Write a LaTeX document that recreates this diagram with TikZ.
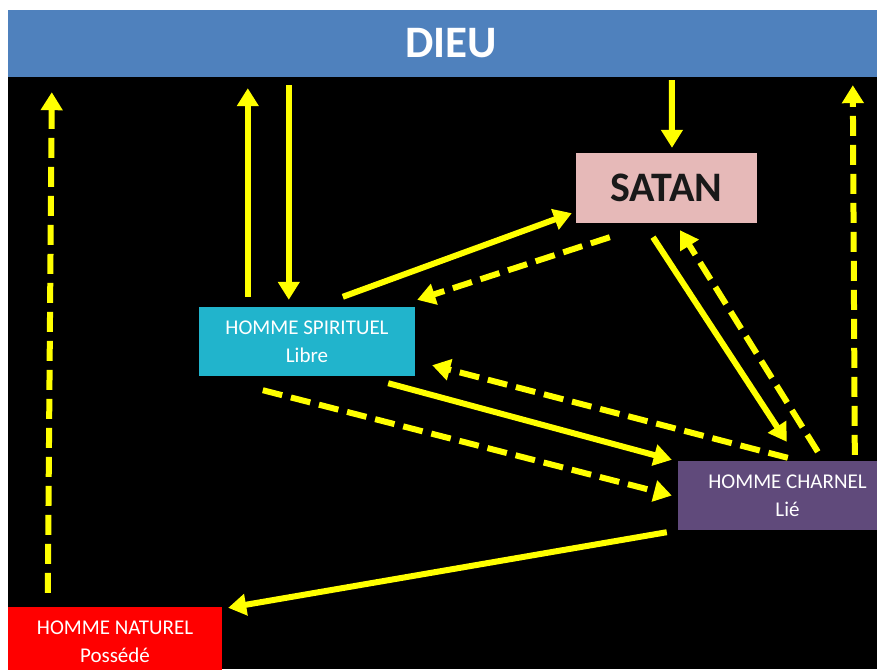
\documentclass[tikz,border=0pt]{standalone}
\usepackage{fontspec}
\setmainfont{Carlito}
\usepackage{xcolor}
\usepackage{tikz}
\usetikzlibrary{calc,arrows.meta}

\definecolor{bleudieu}{RGB}{79,129,189}
\definecolor{rosesatan}{RGB}{230,185,184}
\definecolor{cyanspirituel}{RGB}{33,180,204}
\definecolor{violetcharnel}{RGB}{96,74,123}
\definecolor{rougenaturel}{RGB}{255,0,0}
\definecolor{jaune}{RGB}{255,255,0}

\begin{document}
\begin{tikzpicture}[x=1pt, y=-1pt,
    boite/.style={inner sep=0pt, align=center, text=white, font=\fontsize{21}{28}\selectfont},
    plein/.style={jaune, line width=6pt, -{Triangle[width=21pt,length=18pt]}},
    tirets/.style={plein, dash pattern=on 20pt off 9pt}]
            \useasboundingbox (0,0) rectangle (877,669);
            \clip (0,0) rectangle (877,669);
            \fill[white] (0,0) rectangle (877,669);
            \fill[black] (8,77) rectangle (877,669);

            \node[fill=bleudieu, inner sep=0pt, minimum width=869pt, minimum height=67pt] (dieu) at (442.5,43.5) {};
            \node[text=white, font=\bfseries\fontsize{45}{50}\selectfont] (dieutxt) at (451,43) {DIEU};

            \node[fill=rosesatan, inner sep=0pt, minimum width=181pt, minimum height=70pt, text=black!90, font=\bfseries\fontsize{42}{46}\selectfont] (satan) at (666.5,188) {SATAN};

            \node[boite, fill=cyanspirituel, minimum width=216pt, minimum height=69pt] (spirituel) at (307,341.5) {HOMME SPIRITUEL\\Libre};
            \node[boite, fill=violetcharnel, minimum width=219pt, minimum height=69pt] (charnel) at (787.5,495.5) {HOMME CHARNEL\\Lié};
            \node[boite, fill=rougenaturel, minimum width=214pt, minimum height=70pt] (naturel) at (115,642) {HOMME NATUREL\\Possédé};

            \draw[tirets] ([shift={(40,-14)}]naturel.north west) -- ([shift={(44,15)}]dieu.south west);
            \draw[plein] ([shift={(49,-10)}]spirituel.north west) -- ([shift={(240,11)}]dieu.south west);
            \draw[plein] ([shift={(281,8)}]dieu.south west) -- ([shift={(90,-7)}]spirituel.north west);
            \draw[plein] ([shift={(664,3)}]dieu.south west) -- ([shift={(5.5,-5)}]satan.north);
            \draw[tirets] ([shift={(177,-6)}]charnel.north west) -- ([shift={(845,8)}]dieu.south west);

            \draw[plein] ([shift={(144,-10)}]spirituel.north west) -- ([shift={(-4,-10)}]satan.south west);
            \draw[tirets] ([shift={(34,14)}]satan.south west) -- ([shift={(2,-7)}]spirituel.north east);

            \draw[plein] ([shift={(-27,7)}]spirituel.south east) -- ([shift={(-6,-1)}]charnel.north west);
            \draw[tirets] ([shift={(110,-3)}]charnel.north west) -- ([shift={(17,-11)}]spirituel.south east);
            \draw[tirets] ([shift={(64,14)}]spirituel.south west) -- ([shift={(-6,0)}]charnel.west);

            \draw[plein] ([shift={(-13.5,14)}]satan.south) -- ([shift={(109,-19)}]charnel.north west);
            \draw[tirets] ([shift={(140,-9)}]charnel.north west) -- ([shift={(13.5,7)}]satan.south);

            \draw[plein] ([shift={(-11,2)}]charnel.south west) -- ([shift={(6,1)}]naturel.north east);
        \end{tikzpicture}
\end{document}
